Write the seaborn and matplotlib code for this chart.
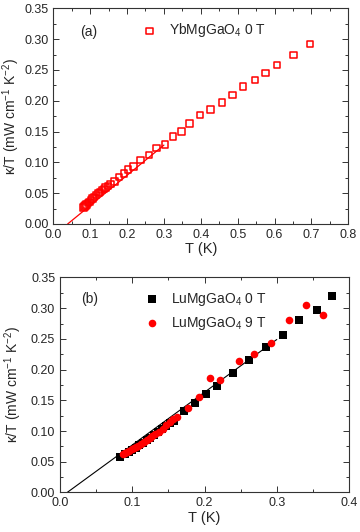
import numpy as np
import pandas as pd
import matplotlib
matplotlib.use("Agg")
import matplotlib.pyplot as plt
from matplotlib.ticker import MultipleLocator
import seaborn as sns

# panel (a): YbMgGaO4, 0 T
yb_T = [0.082, 0.084, 0.087, 0.090, 0.094, 0.098, 0.102, 0.106, 0.111, 0.116,
        0.122, 0.127, 0.132, 0.137, 0.142, 0.148, 0.155, 0.166, 0.178, 0.192,
        0.203, 0.217, 0.237, 0.259, 0.280, 0.303, 0.324, 0.348, 0.369, 0.398,
        0.427, 0.457, 0.486, 0.515, 0.547, 0.576, 0.606, 0.651, 0.696]
yb_k = [0.027, 0.028, 0.030, 0.032, 0.034, 0.036, 0.039, 0.041, 0.044, 0.047,
        0.050, 0.052, 0.055, 0.057, 0.059, 0.062, 0.065, 0.069, 0.076, 0.082,
        0.088, 0.093, 0.104, 0.112, 0.123, 0.129, 0.142, 0.150, 0.163, 0.177,
        0.186, 0.197, 0.209, 0.223, 0.234, 0.245, 0.258, 0.274, 0.292]
yb_fit_T = [0.039, 0.300]
yb_fit_k = [0.0, 0.128]

# panel (b): LuMgGaO4, 0 T and 9 T
lu0_T = [0.083, 0.090, 0.095, 0.100, 0.105, 0.110, 0.115, 0.120, 0.125, 0.130,
         0.136, 0.141, 0.147, 0.152, 0.158, 0.172, 0.187, 0.202, 0.217, 0.240,
         0.262, 0.285, 0.308, 0.331, 0.355, 0.377]
lu0_k = [0.057, 0.062, 0.066, 0.069, 0.073, 0.077, 0.081, 0.085, 0.089, 0.094,
         0.099, 0.103, 0.108, 0.113, 0.117, 0.133, 0.146, 0.161, 0.174, 0.194,
         0.215, 0.236, 0.257, 0.280, 0.297, 0.320]
lu9_T = [0.087, 0.090, 0.093, 0.096, 0.099, 0.102, 0.105, 0.108, 0.112, 0.116,
         0.120, 0.124, 0.128, 0.132, 0.137, 0.142, 0.147, 0.152, 0.156, 0.162,
         0.177, 0.192, 0.208, 0.222, 0.248, 0.268, 0.292, 0.317, 0.340, 0.364]
lu9_k = [0.062, 0.064, 0.066, 0.068, 0.070, 0.072, 0.074, 0.076, 0.079, 0.082,
         0.085, 0.088, 0.092, 0.095, 0.099, 0.104, 0.109, 0.114, 0.120, 0.123,
         0.137, 0.156, 0.186, 0.183, 0.2135, 0.225, 0.243, 0.281, 0.306, 0.289]
lu_fit_T = [0.010, 0.300]
lu_fit_k = [0.0, 0.249]

sns.set_style("ticks")
plt.rcParams['font.family'] = ['Liberation Sans', 'DejaVu Sans']
plt.rcParams['mathtext.fontset'] = 'custom'
plt.rcParams['mathtext.rm'] = 'Liberation Sans'
plt.rcParams['mathtext.it'] = 'Liberation Sans'

fig = plt.figure(figsize=(3.6, 5.32), dpi=100)
ax1 = fig.add_axes([0.148, 0.579, 0.8195, 0.4054])
ax2 = fig.add_axes([0.1667, 0.0744, 0.8028, 0.404])

ylab = r'$\kappa$/T (mW cm$^{-1}$ K$^{-2}$)'

# (a)
sns.lineplot(x=yb_fit_T, y=yb_fit_k, ax=ax1, color='red', lw=0.9)
sns.scatterplot(x=yb_T, y=yb_k, ax=ax1, marker='s', s=22, facecolor='none',
                edgecolor='red', linewidth=1.1, label=r'YbMgGaO$_4$ 0 T')
ax1.set_xlim(0, 0.8)
ax1.set_ylim(0, 0.35)
ax1.xaxis.set_major_locator(MultipleLocator(0.1))
ax1.xaxis.set_minor_locator(MultipleLocator(0.05))
ax1.text(0.09, 0.89, '(a)', transform=ax1.transAxes, fontsize=10, va='center')
ax1.legend(loc='upper left', bbox_to_anchor=(0.26, 0.965), frameon=False,
           fontsize=10, handletextpad=0.4, borderaxespad=0)

# (b)
sns.lineplot(x=lu_fit_T, y=lu_fit_k, ax=ax2, color='black', lw=0.8)
sns.scatterplot(x=lu0_T, y=lu0_k, ax=ax2, marker='s', s=30, color='black',
                linewidth=0, label=r'LuMgGaO$_4$ 0 T', zorder=3)
sns.scatterplot(x=lu9_T, y=lu9_k, ax=ax2, marker='o', s=30, color='red',
                linewidth=0, label=r'LuMgGaO$_4$ 9 T', zorder=3)
ax2.set_xlim(0, 0.4)
ax2.set_ylim(0, 0.35)
ax2.xaxis.set_major_locator(MultipleLocator(0.1))
ax2.xaxis.set_minor_locator(MultipleLocator(0.05))
ax2.text(0.073, 0.90, '(b)', transform=ax2.transAxes, fontsize=10, va='center')
ax2.legend(loc='upper left', bbox_to_anchor=(0.25, 0.965), frameon=False,
           fontsize=10, handletextpad=0.4, borderaxespad=0, labelspacing=0.5)

for ax, lx in ((ax1, -0.105), (ax2, -0.125)):
    ax.yaxis.set_major_locator(MultipleLocator(0.05))
    ax.yaxis.set_minor_locator(MultipleLocator(0.025))
    ax.xaxis.set_major_formatter(matplotlib.ticker.FormatStrFormatter('%.1f'))
    ax.yaxis.set_major_formatter(matplotlib.ticker.FormatStrFormatter('%.2f'))
    ax.tick_params(which='both', direction='in', top=True, right=True,
                   labelsize=9, width=0.7, color='#333333')
    ax.tick_params(which='major', length=4)
    ax.tick_params(which='minor', length=2.2)
    for sp in ax.spines.values():
        sp.set_visible(True)
        sp.set_linewidth(0.8)
        sp.set_color('#333333')
    ax.set_xlabel('T (K)', fontsize=10.5, labelpad=1)
    ax.set_ylabel(ylab, fontsize=10)
    ax.yaxis.set_label_coords(lx, 0.5)

fig.savefig('out.png', dpi=100)
